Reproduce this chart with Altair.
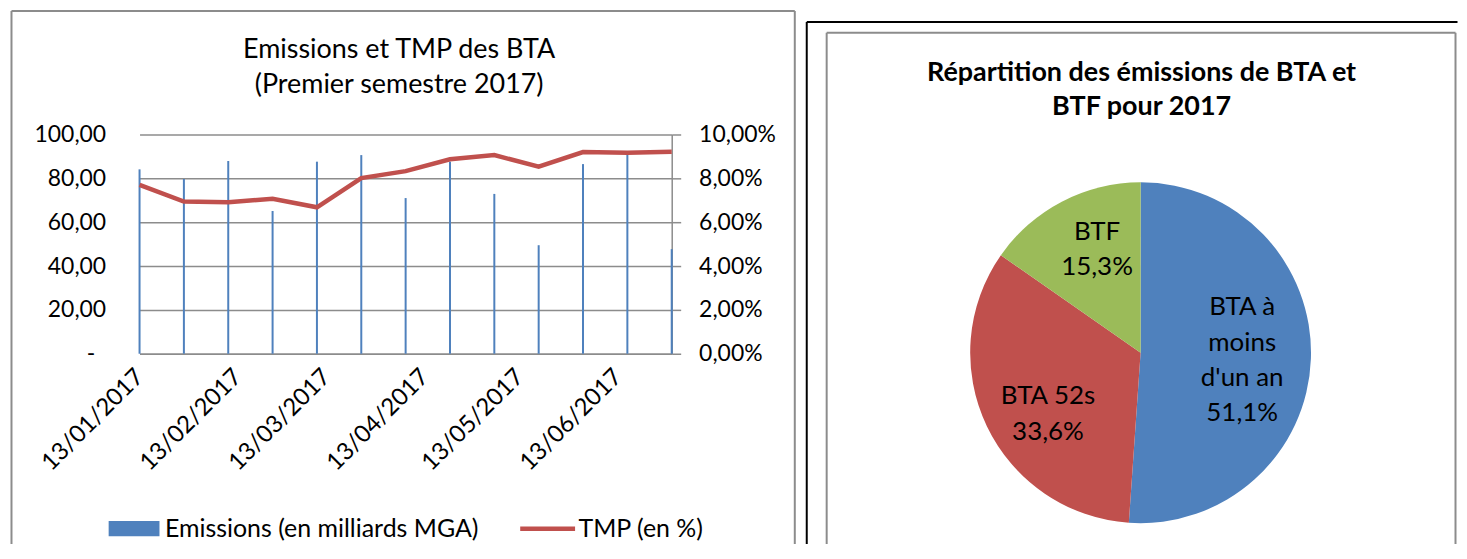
import altair as alt
import pandas as pd

# ---------------- data ----------------
dates = ["2017-01-13", "2017-01-27", "2017-02-10", "2017-02-24", "2017-03-10",
         "2017-03-24", "2017-04-07", "2017-04-21", "2017-05-05", "2017-05-19",
         "2017-06-02", "2017-06-16", "2017-06-30"]
emissions = [84.1, 79.7, 87.9, 65.1, 87.6, 90.6, 71.0, 87.6, 72.9, 49.5, 86.5, 90.9, 47.7]
tmp = [7.70, 6.94, 6.91, 7.07, 6.68, 8.01, 8.33, 8.87, 9.06, 8.53, 9.20, 9.17, 9.21]
series_names = ["Emissions (en milliards MGA)", "TMP (en %)"]
x_tick_dates = ["2017-01-13", "2017-02-13", "2017-03-13", "2017-04-13", "2017-05-13", "2017-06-13"]
left_ticks = [0, 20, 40, 60, 80, 100]
right_ticks = [0, 2, 4, 6, 8, 10]
left_title = ["Emissions et TMP des BTA", "(Premier semestre 2017)"]

pie_categories = ["BTA à moins d'un an", "BTA 52s", "BTF"]
pie_labels = ["BTA à\nmoins\nd'un an", "BTA 52s", "BTF"]
pie_shares = [51.1, 33.6, 15.3]
pie_title = ["Répartition des émissions de BTA et", "BTF pour 2017"]

# ---------------- styles ----------------
FONT = "Lato"
BLUE, RED, GREEN = "#4f81bd", "#c0504d", "#9bbb59"
GRID = "#8c8c8c"
BOX = "#8c8c8c"
TWO_PI = 6.283185307179586


def dt(s):
    y, m, d = (int(v) for v in s.split("-"))
    return alt.DateTime(year=y, month=m, date=d, utc=True)


df = pd.DataFrame({"date": dates, "emissions": emissions, "tmp": tmp})
df["s1"] = series_names[0]
df["s2"] = series_names[1]

x_enc = alt.X(
    "date:T",
    scale=alt.Scale(type="utc", domain=[dt(dates[0]), dt(dates[-1])], padding=0, nice=False),
    axis=alt.Axis(
        values=[dt(s) for s in x_tick_dates],
        labelExpr="utcFormat(datum.value, '%d/%m/%Y')",
        labelAngle=-45, labelAlign="right", labelBaseline="middle",
        labelPadding=19, ticks=False, grid=False,
        domainColor=GRID, domainWidth=1.5,
        labelFont=FONT, labelFontSize=24, labelColor="black",
        labelOverlap=False, labelFlush=False, labelBound=False, title=None,
    ),
)

bars = alt.Chart(df).mark_bar(size=2).encode(
    x=x_enc,
    y=alt.Y(
        "emissions:Q",
        scale=alt.Scale(domain=[0, 100], nice=False),
        axis=alt.Axis(
            values=left_ticks,
            labelExpr="datum.value == 0 ? '-' : replace(format(datum.value, '.2f'), '.', ',')",
            domain=False, ticks=False, grid=True, gridColor=GRID, gridWidth=1.5,
            labelPadding={"condition": {"test": "datum.value == 0", "value": 45}, "value": 34},
            labelFont=FONT, labelFontSize=23, labelColor="black",
            title=None,
        ),
    ),
    fill=alt.Fill(
        "s1:N",
        scale=alt.Scale(domain=[series_names[0]], range=[BLUE]),
        legend=alt.Legend(
            title=None, orient="none", legendX=-18, legendY=383,
            symbolType="M-3,-0.9H3V0.9H-3Z", symbolSize=289, symbolStrokeWidth=0,
            labelFont=FONT, labelFontSize=25, labelColor="black", labelOffset=18.5,
            labelLimit=500, padding=0,
        ),
    ),
)

line = alt.Chart(df).mark_line(strokeWidth=4.5).encode(
    x=x_enc,
    y=alt.Y(
        "tmp:Q",
        scale=alt.Scale(domain=[0, 10], nice=False),
        axis=alt.Axis(
            orient="right", values=right_ticks,
            labelExpr="replace(format(datum.value, '.2f'), '.', ',') + '%'",
            domain=True, domainColor=GRID, domainWidth=1.5,
            ticks=True, tickSize=9, tickColor=GRID, tickWidth=1.5,
            grid=False, labelPadding=18,
            labelFont=FONT, labelFontSize=23, labelColor="black", title=None,
        ),
    ),
    stroke=alt.Stroke(
        "s2:N",
        scale=alt.Scale(domain=[series_names[1]], range=[RED]),
        legend=alt.Legend(
            title=None, orient="none", legendX=397, legendY=383,
            symbolType="M-3.2,0H3.2", symbolSize=296, symbolStrokeWidth=4.5,
            symbolFillColor="transparent",
            labelFont=FONT, labelFontSize=25, labelColor="black", labelOffset=18.5,
            labelLimit=500, padding=0,
        ),
    ),
)

one = alt.Data(values=[{"k": 1}])


def hrule(x1, x2, y, color, w=2):
    return alt.Chart(one).mark_rule(color=color, strokeWidth=w).encode(
        x=alt.value(x1), x2=alt.value(x2), y=alt.value(y))


def vrule(x, y1, y2, color, w=2):
    return alt.Chart(one).mark_rule(color=color, strokeWidth=w).encode(
        x=alt.value(x), y=alt.value(y1), y2=alt.value(y2))


def title_text(lines, x, y, size, weight, lh):
    return alt.Chart(alt.Data(values=[{"t": "\n".join(lines)}])).mark_text(
        font=FONT, fontSize=size, fontWeight=weight, color="black",
        align="center", baseline="middle", lineBreak="\n", lineHeight=lh,
    ).encode(x=alt.value(x), y=alt.value(y), text="t:N")


left_box = [
    hrule(-128.5, 657.5, -124, BOX),
    vrule(-128.5, -124, 411, BOX),
    vrule(657.5, -124, 411, BOX),
]

left = alt.layer(
    bars, line, *left_box,
    title_text(left_title, 260.5, -85, 27, "normal", 35),
).resolve_scale(
    y="independent", fill="independent", stroke="independent"
).properties(width=534, height=220)

# ---------------- pie ----------------
pie_df = pd.DataFrame({
    "cat": pie_categories, "label": pie_labels, "share": pie_shares,
    "idx": list(range(len(pie_categories))),
})

CX, CY = 150, 219
theta_scale = alt.Scale(domain=[0, 100], range=[0, TWO_PI])

arc = alt.Chart(pie_df).mark_arc(radius=171, x=CX, y=CY).encode(
    theta=alt.Theta("share:Q", stack=True, scale=theta_scale),
    order=alt.Order("idx:Q"),
    color=alt.Color("cat:N", scale=alt.Scale(domain=pie_categories, range=[BLUE, RED, GREEN]),
                    legend=None),
)

label_style = [(98, 4, -49), (113, 9, -5), (114, 9, -20)]  # radius, dx, dy per label
text_layers = []
for i, (r, ddx, ddy) in enumerate(label_style):
    text_layers.append(
        alt.Chart(pie_df).mark_text(
            radius=r, x=CX, y=CY, dx=ddx, dy=ddy, font=FONT, fontSize=26,
            color="black", align="center", baseline="middle",
            lineBreak="\n", lineHeight=35.5)
        .transform_window(cum="sum(share)", sort=[alt.SortField("idx")])
        .transform_calculate(
            mid="datum.cum - datum.share / 2",
            txt="datum.label + '\\n' + replace(format(datum.share / 100, '.1%'), '.', ',')")
        .transform_filter(f"datum.idx == {i}")
        .encode(theta=alt.Theta("mid:Q", stack=None, scale=theta_scale), text="txt:N")
    )

right_box = [
    hrule(-185, 468, -113, "black", 2),
    vrule(-185, -113, 411, "black", 2),
    hrule(-165, 466, -102, BOX),
    vrule(-165, -102, 411, BOX),
    vrule(466, -102, 411, BOX),
]

right = alt.layer(
    arc, *text_layers, *right_box,
    title_text(pie_title, 151, -62, 27, "bold", 34),
).properties(width=300, height=380)

chart = alt.hconcat(left, right, spacing=320.5, bounds="flush").properties(
    padding={"left": 2, "top": 1, "right": 0, "bottom": 0}
).configure(font=FONT, view=alt.ViewConfig(stroke=None))

chart.save("out.html", embed_options={"renderer": "svg", "actions": False})
